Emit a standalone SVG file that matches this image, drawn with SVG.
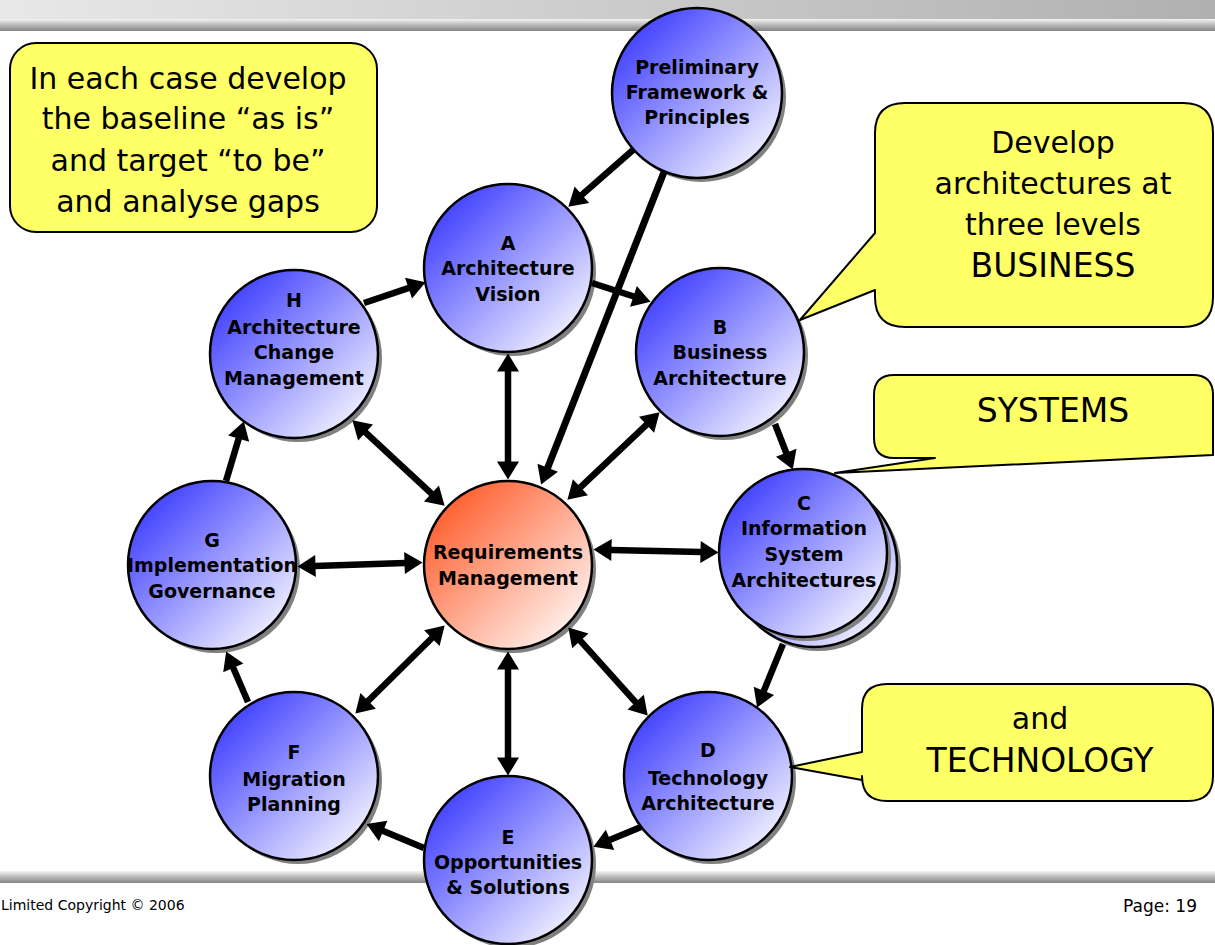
<svg xmlns="http://www.w3.org/2000/svg" width="1215" height="945" viewBox="0 0 1215 945">
<defs>
<linearGradient id="topbar" x1="0" y1="0" x2="1" y2="0">
<stop offset="0" stop-color="#e8e8e8"/><stop offset="1" stop-color="#b0b0b0"/>
</linearGradient>
<linearGradient id="band" x1="0" y1="0" x2="0" y2="1">
<stop offset="0" stop-color="#f4f4f4"/><stop offset="0.5" stop-color="#b8b8b8"/><stop offset="1" stop-color="#858585"/>
</linearGradient>
<linearGradient id="blue" x1="0.1" y1="0.1" x2="0.95" y2="0.95">
<stop offset="0" stop-color="#3c3cff"/><stop offset="1" stop-color="#ffffff"/>
</linearGradient>
<linearGradient id="red" x1="0.1" y1="0.1" x2="0.95" y2="0.95">
<stop offset="0" stop-color="#ff5a28"/><stop offset="1" stop-color="#ffffff"/>
</linearGradient>
<marker id="ah" markerUnits="userSpaceOnUse" markerWidth="18" markerHeight="22" viewBox="0 -11 18 22" refX="0.5" refY="0" orient="auto-start-reverse" overflow="visible">
<path d="M0,-11 L18,0 L0,11 z" fill="#000"/>
</marker>
<style>
.lbl{font-family:"DejaVu Sans",Verdana,sans-serif;font-weight:bold;font-size:19px;text-anchor:middle;fill:#000}
.call{font-family:"DejaVu Sans",Verdana,sans-serif;font-size:30px;text-anchor:middle;fill:#000}
.caps{font-size:33px}
.circ{stroke:#000;stroke-width:2.5}
.shadow{fill:#808080}
.bubble{fill:#ffff66;stroke:#000;stroke-width:2;stroke-linejoin:round}
.conn line{stroke:#000;stroke-width:6.5}
.foot{font-family:"DejaVu Sans",sans-serif;fill:#000}
</style>
</defs>

<rect x="0" y="0" width="1215" height="945" fill="#ffffff"/>
<g id="frame">
<rect x="0" y="0" width="1215" height="19" fill="url(#topbar)"/>
<rect x="0" y="19" width="1215" height="12" fill="url(#band)"/>
<rect x="0" y="871" width="1215" height="12" fill="url(#band)"/>
</g>

<g id="callout-baseline">
<rect class="bubble" x="10" y="43" width="367" height="189" rx="26" ry="26"/>
<text class="call" x="188" y="89">In each case develop</text>
<text class="call" x="188" y="129">the baseline “as is”</text>
<text class="call" x="188" y="171">and target “to be”</text>
<text class="call" x="188" y="212">and analyse gaps</text>
</g>

<g id="node-prelim">
<circle class="shadow" cx="701" cy="97" r="85"/>
<circle class="circ" cx="697" cy="93" r="85" fill="url(#blue)"/>
<text class="lbl" x="697" y="74">Preliminary</text>
<text class="lbl" x="697" y="99">Framework &amp;</text>
<text class="lbl" x="697" y="124">Principles</text>
</g>

<g id="node-a">
<circle class="shadow" cx="512" cy="272" r="84"/>
<circle class="circ" cx="508" cy="268" r="84" fill="url(#blue)"/>
<text class="lbl" x="508" y="250">A</text>
<text class="lbl" x="508" y="275">Architecture</text>
<text class="lbl" x="508" y="301">Vision</text>
</g>

<g id="node-h">
<circle class="shadow" cx="298" cy="358" r="84"/>
<circle class="circ" cx="294" cy="354" r="84" fill="url(#blue)"/>
<text class="lbl" x="294" y="307">H</text>
<text class="lbl" x="294" y="334">Architecture</text>
<text class="lbl" x="294" y="359">Change</text>
<text class="lbl" x="294" y="385">Management</text>
</g>

<g id="node-b">
<circle class="shadow" cx="724" cy="356" r="84"/>
<circle class="circ" cx="720" cy="352" r="84" fill="url(#blue)"/>
<text class="lbl" x="720" y="334">B</text>
<text class="lbl" x="720" y="359">Business</text>
<text class="lbl" x="720" y="385">Architecture</text>
</g>

<g id="node-c">
<circle class="shadow" cx="818" cy="568" r="83"/>
<circle class="circ" cx="814" cy="564" r="83" fill="url(#blue)"/>
<circle class="shadow" cx="807" cy="557" r="84"/>
<circle class="circ" cx="803" cy="553" r="84" fill="url(#blue)"/>
<text class="lbl" x="804" y="510">C</text>
<text class="lbl" x="804" y="535">Information</text>
<text class="lbl" x="804" y="561">System</text>
<text class="lbl" x="804" y="587">Architectures</text>
</g>

<g id="node-d">
<circle class="shadow" cx="712" cy="780" r="84"/>
<circle class="circ" cx="708" cy="776" r="84" fill="url(#blue)"/>
<text class="lbl" x="708" y="757">D</text>
<text class="lbl" x="708" y="785">Technology</text>
<text class="lbl" x="708" y="810">Architecture</text>
</g>

<g id="node-e">
<circle class="shadow" cx="512" cy="864" r="84"/>
<circle class="circ" cx="508" cy="860" r="84" fill="url(#blue)"/>
<text class="lbl" x="508" y="844">E</text>
<text class="lbl" x="508" y="869">Opportunities</text>
<text class="lbl" x="508" y="894">&amp; Solutions</text>
</g>

<g id="node-f">
<circle class="shadow" cx="298" cy="780" r="84"/>
<circle class="circ" cx="294" cy="776" r="84" fill="url(#blue)"/>
<text class="lbl" x="294" y="759">F</text>
<text class="lbl" x="294" y="786">Migration</text>
<text class="lbl" x="294" y="811">Planning</text>
</g>

<g id="node-g">
<circle class="shadow" cx="216" cy="569" r="84"/>
<circle class="circ" cx="212" cy="565" r="84" fill="url(#blue)"/>
<text class="lbl" x="212" y="547">G</text>
<text class="lbl" x="212" y="572">Implementation</text>
<text class="lbl" x="212" y="598">Governance</text>
</g>

<g id="node-req">
<circle class="shadow" cx="512" cy="569" r="84"/>
<circle class="circ" cx="508" cy="565" r="84" fill="url(#red)"/>
<text class="lbl" x="508" y="559">Requirements</text>
<text class="lbl" x="508" y="585">Management</text>
</g>

<g id="connectors" class="conn">
<line x1="633" y1="150" x2="581.5" y2="195.1" marker-end="url(#ah)"/>
<line x1="664" y1="172" x2="547.5" y2="468.2" marker-end="url(#ah)" style="stroke-width:7"/>
<line x1="364" y1="303" x2="409" y2="287.9" marker-end="url(#ah)"/>
<line x1="592" y1="283" x2="633.9" y2="296.5" marker-end="url(#ah)"/>
<line x1="775" y1="424" x2="786.4" y2="453.2" marker-end="url(#ah)"/>
<line x1="783" y1="644" x2="763.7" y2="691.3" marker-end="url(#ah)"/>
<line x1="641" y1="827" x2="609.6" y2="840.1" marker-end="url(#ah)"/>
<line x1="424" y1="848" x2="382.7" y2="830.8" marker-end="url(#ah)"/>
<line x1="248" y1="702" x2="233.1" y2="667.5" marker-end="url(#ah)"/>
<line x1="226" y1="481" x2="238.8" y2="438.2" marker-end="url(#ah)"/>
<line x1="508" y1="371" x2="508" y2="462" marker-start="url(#ah)" marker-end="url(#ah)"/>
<line x1="365.2" y1="432.2" x2="431.8" y2="493.8" marker-start="url(#ah)" marker-end="url(#ah)"/>
<line x1="646.9" y1="424.4" x2="580.1" y2="487.6" marker-start="url(#ah)" marker-end="url(#ah)"/>
<line x1="315" y1="566" x2="405" y2="563" marker-start="url(#ah)" marker-end="url(#ah)"/>
<line x1="611" y1="550" x2="701" y2="552" marker-start="url(#ah)" marker-end="url(#ah)"/>
<line x1="367.8" y1="701.3" x2="432.2" y2="637.7" marker-start="url(#ah)" marker-end="url(#ah)"/>
<line x1="508" y1="758" x2="508" y2="669" marker-start="url(#ah)" marker-end="url(#ah)"/>
<line x1="636" y1="702.6" x2="580" y2="640.4" marker-start="url(#ah)" marker-end="url(#ah)"/>
</g>

<g id="callout-business">
<path class="bubble" d="M905,103 H1183 Q1213,103 1213,133 V297 Q1213,327 1183,327 H905 Q875,327 875,297 V290 L800,320 L875,233 V133 Q875,103 905,103 Z"/>
<text class="call" x="1053" y="153">Develop</text>
<text class="call" x="1053" y="194">architectures at</text>
<text class="call" x="1053" y="235">three levels</text>
<text class="call caps" x="1053" y="277">BUSINESS</text>
</g>

<g id="callout-systems">
<path class="bubble" d="M894,375 H1193 Q1213,375 1213,395 V455 L835,473 L935,458 H894 Q874,458 874,438 V395 Q874,375 894,375 Z"/>
<text class="call caps" x="1053" y="422">SYSTEMS</text>
</g>

<g id="callout-technology">
<path class="bubble" d="M887,684 H1188 Q1213,684 1213,709 V776 Q1213,801 1188,801 H887 Q862,801 862,776 V780 L790,767 L862,752 V709 Q862,684 887,684 Z"/>
<text class="call" x="1040" y="729">and</text>
<text class="call caps" x="1040" y="772">TECHNOLOGY</text>
</g>

<g id="footer">
<text class="foot" x="1" y="910" font-size="14">Limited Copyright © 2006</text>
<text class="foot" x="1197" y="912" font-size="17" text-anchor="end">Page: 19</text>
</g>
</svg>
